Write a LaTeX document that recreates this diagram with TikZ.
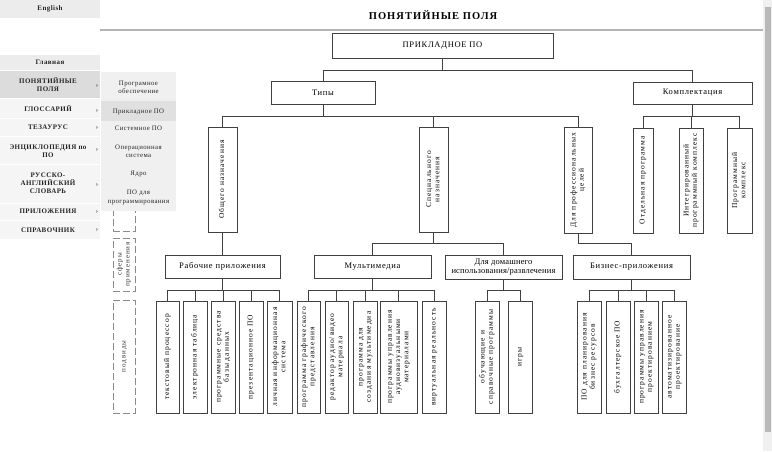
\documentclass[tikz,border=0pt]{standalone}
\usepackage{fontspec}
\usepackage{graphicx}
\setmainfont{Liberation Serif}
\newfontfamily\hfont[LetterSpace=8]{Liberation Serif}
\newfontfamily\hfontn[LetterSpace=2]{Liberation Serif}
\newfontfamily\vfont[LetterSpace=14]{Liberation Serif}
\newfontfamily\mfont[LetterSpace=6]{Liberation Serif}
\newfontfamily\tfont[LetterSpace=10]{Liberation Serif}
\definecolor{ln}{HTML}{404040}
\definecolor{dsh}{HTML}{8A8A8A}
\definecolor{mbg}{HTML}{F5F5F5}
\definecolor{mact}{HTML}{DCDCDC}
\definecolor{mtop}{HTML}{ECECEC}
\definecolor{sbg}{HTML}{F0F0F0}
\definecolor{sact}{HTML}{E0E0E0}
\definecolor{hdr}{HTML}{B4B4B4}
\definecolor{scr}{HTML}{B8B8B8}
\tikzset{
  box/.style={draw=ln, line width=0.8pt, inner sep=0pt, fill=white, align=center,
    font=\hfont\fontsize{8.5}{9.5}\selectfont},
  vb/.style={draw=ln, line width=0.8pt, inner sep=0pt, fill=white,
    font=\vfont\fontsize{7.5}{8.3}\selectfont},
  dbox/.style={draw=dsh, line width=0.8pt, dash pattern=on 7pt off 3pt, inner sep=0pt,
    font=\vfont\fontsize{7}{8}\selectfont, text=black!80},
  conn/.style={draw=ln, line width=0.8pt},
  mitem/.style={inner sep=0pt, minimum width=100, align=center, text=black!85,
    font=\mfont\bfseries\fontsize{7}{8.2}\selectfont},
  sitem/.style={inner sep=0pt, align=center, text=black!85,
    font=\mfont\fontsize{6.8}{8.2}\selectfont},
  arr/.style={inner sep=0pt, text=black!70, font=\mfont\bfseries\fontsize{7}{8}\selectfont},
}
\newcommand{\hbx}[6]{\node[box, minimum width={#4-#2}, minimum height={#5-#3}] (#1) at ({(#2+#4)/2},{(#3+#5)/2}) {#6};}
\newcommand{\vbx}[6]{\node[vb, minimum width={#4-#2}, minimum height={#5-#3}] (#1) at ({(#2+#4)/2},{(#3+#5)/2}) {\rotatebox{90}{\begin{tabular}{@{}c@{}}#6\end{tabular}}};}
\newcommand{\dbx}[6]{\node[dbox, minimum width={#4-#2}, minimum height={#5-#3}] (#1) at ({(#2+#4)/2},{(#3+#5)/2}) {\rotatebox{90}{\begin{tabular}{@{}c@{}}#6\end{tabular}}};}
\newcommand{\mkbranch}[3]{%
  \draw[conn] (#1.south) -- (#1.south |- #2);
  \foreach \cc in {#3} {\draw[conn] (#1.south |- #2) -| (\cc.north);}
}
\begin{document}
\begin{tikzpicture}[x=1pt,y=-1pt]
\useasboundingbox (0,0) rectangle (772,451);
\fill[white] (0,0) rectangle (772,451);

% ---------- header ----------
\fill[mtop] (0,0) rectangle (100,18);
\node[mitem] (eng) at (50,9) {English};
\draw[hdr, line width=2pt] (100,30) -- (765,30);
\node[font=\tfont\bfseries\fontsize{10.5}{12}\selectfont] (title) at (433,15) {ПОНЯТИЙНЫЕ ПОЛЯ};

% ---------- scrollbar ----------
\fill[sbg] (763,0) rectangle (772,451);
\fill[scr] (765,7) rectangle (771,432);

% ---------- dashed side boxes ----------
\dbx{dA}{113}{127}{135}{231}{}
\dbx{dB}{113}{238}{135}{291}{сферы\\применения}
\dbx{dC}{113}{300}{135}{413}{подвиды}

% ---------- left menu ----------
\fill[mtop] (0,55) rectangle (100,70);
\node[mitem] (m0) at (50,62.5) {Главная};
\fill[mact] (0,71) rectangle (100,98);
\node[mitem] (m1) at (48,84.5) {ПОНЯТИЙНЫЕ\\ПОЛЯ};
\fill[mbg] (0,99) rectangle (100,118);
\node[mitem] (m2) at (48,109) {ГЛОССАРИЙ};
\fill[mbg] (0,119) rectangle (100,136);
\node[mitem] (m3) at (48,127.5) {ТЕЗАУРУС};
\fill[mbg] (0,137) rectangle (100,164);
\node[mitem] (m4) at (48,151) {ЭНЦИКЛОПЕДИЯ по\\ПО};
\fill[mbg] (0,165) rectangle (100,203);
\node[mitem] (m5) at (48,183.5) {РУССКО-\\АНГЛИЙСКИЙ\\СЛОВАРЬ};
\fill[mbg] (0,204) rectangle (100,220);
\node[mitem] (m6) at (48,211.5) {ПРИЛОЖЕНИЯ};
\fill[mbg] (0,221) rectangle (100,239);
\node[mitem] (m7) at (48,230) {СПРАВОЧНИК};
\foreach \yy/\nn in {86/a1,111/a2,128/a3,150/a4,185/a5,212/a6,230/a7}
  {\node[arr] (\nn) at (97,\yy) {›};}

% ---------- submenu ----------
\fill[sbg] (101,72) rectangle (176,211);
\fill[sact] (101,101) rectangle (176,121);
\node[sitem] (s1) at (138.5,87.5) {Програмное\\обеспечение};
\node[sitem] (s2) at (138.5,111.5) {Прикладное ПО};
\node[sitem] (s3) at (138.5,128.5) {Системное ПО};
\node[sitem] (s4) at (138.5,151) {Операционная\\система};
\node[sitem] (s5) at (138.5,174) {Ядро};
\node[sitem] (s6) at (138.5,197.5) {ПО для\\программирования};

% ---------- diagram boxes ----------
\hbx{top}{332}{33}{553}{58}{ПРИКЛАДНОЕ ПО}
\hbx{types}{271}{81}{375}{104}{Типы}
\hbx{kompl}{633}{82}{752}{104}{Комплектация}

\vbx{obsh}{208}{127}{237}{232}{Общего назначения}
\vbx{spec}{419}{127}{448}{232}{Специального\\назначения}
\vbx{prof}{564}{127}{592}{233}{Для профессиональных\\целей}
\vbx{otd}{633}{128}{653}{233}{Отдельная программа}
\vbx{integ}{679}{128}{703}{233}{Интегрированный\\программный комплекс}
\vbx{progk}{727}{128}{752}{233}{Программный\\комплекс}

\hbx{rab}{165}{255}{280}{278}{Рабочие приложения}
\hbx{mult}{314}{255}{431}{278}{Мультимедиа}
\node[box, font=\hfontn\fontsize{8.5}{9.5}\selectfont, minimum width=117, minimum height=24]
  (dom) at (503.5,267) {Для домашнего\\использования/развлечения};
\hbx{biz}{573}{255}{690}{279}{Бизнес-приложения}

\vbx{r1}{156}{301}{179}{413}{текстовый процессор}
\vbx{r2}{183}{301}{207}{413}{электронная таблица}
\vbx{r3}{211}{301}{235}{413}{программные средства\\базы данных}
\vbx{r4}{239}{301}{263}{413}{презентационное ПО}
\vbx{r5}{267}{301}{292}{413}{личная информационная\\система}

\vbx{u1}{297}{301}{320}{413}{программа графического\\представления}
\vbx{u2}{325}{301}{348}{413}{редактор аудио/видео\\материала}
\vbx{u3}{353}{301}{377}{413}{программа для\\создания мультимедиа}
\vbx{u4}{380}{301}{417}{413}{программы управления\\аудиовизуальными\\материалами}
\vbx{u5}{422}{301}{446}{413}{виртуальная реальность}

\vbx{d1}{475}{301}{499}{413}{обучающие и\\справочные программы}
\vbx{d2}{508}{301}{532}{413}{игры}

\vbx{z1}{577}{301}{601}{413}{ПО для планирования\\бизнес ресурсов}
\vbx{z2}{606}{301}{630}{413}{бухгалтерское ПО}
\vbx{z3}{634}{301}{658}{413}{программы управления\\проектированием}
\vbx{z4}{662}{301}{686}{413}{автоматизированное\\проектирование}

% ---------- connectors ----------
\coordinate (b0) at (0,70);
\coordinate (b1) at (0,116);
\coordinate (b2) at (0,243);
\coordinate (b3) at (0,290);
\mkbranch{top}{b0}{types,kompl}
\mkbranch{types}{b1}{obsh,spec,prof}
\mkbranch{kompl}{b1}{otd,integ,progk}
\mkbranch{obsh}{b2}{rab}
\mkbranch{spec}{b2}{mult,dom}
\mkbranch{prof}{b2}{biz}
\mkbranch{rab}{b3}{r1,r2,r3,r4,r5}
\mkbranch{mult}{b3}{u1,u2,u3,u4,u5}
\mkbranch{dom}{b3}{d1,d2}
\mkbranch{biz}{b3}{z1,z2,z3,z4}
\end{tikzpicture}
\end{document}
